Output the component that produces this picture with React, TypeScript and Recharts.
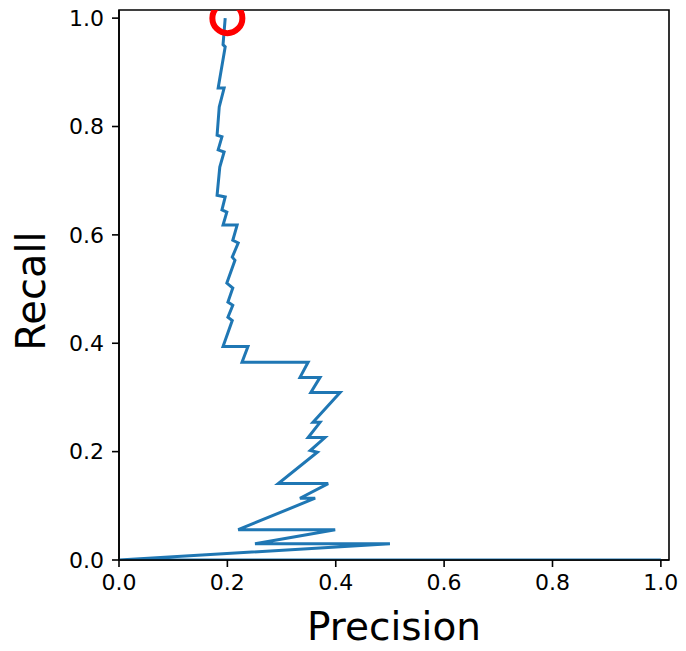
import {
  ComposedChart,
  Line,
  ReferenceArea,
  ReferenceDot,
  XAxis,
  YAxis,
} from "recharts";

const precision = [
  0.196, 0.192, 0.196, 0.183, 0.194, 0.185, 0.181, 0.19, 0.183, 0.194, 0.186,
  0.181, 0.196, 0.19, 0.199, 0.192, 0.218, 0.21, 0.22, 0.209, 0.214, 0.199,
  0.21, 0.201, 0.21, 0.201, 0.209, 0.192, 0.238, 0.227, 0.349, 0.334, 0.371,
  0.354, 0.408, 0.358, 0.371, 0.349, 0.38, 0.353, 0.366, 0.294, 0.386, 0.334,
  0.362, 0.22, 0.399, 0.251, 0.5, 0.0, 1.0,
];
const recall = [
  1.0, 0.951, 0.947, 0.871, 0.871, 0.836, 0.784, 0.781, 0.757, 0.753, 0.725,
  0.673, 0.67, 0.646, 0.642, 0.618, 0.618, 0.59, 0.585, 0.559, 0.553, 0.511,
  0.502, 0.476, 0.47, 0.448, 0.442, 0.394, 0.394, 0.365, 0.365, 0.337, 0.337,
  0.309, 0.309, 0.254, 0.254, 0.226, 0.226, 0.202, 0.199, 0.141, 0.141, 0.114,
  0.114, 0.056, 0.056, 0.03, 0.03, 0.0, 0.0,
];
const ticks = [0, 0.2, 0.4, 0.6, 0.8, 1.0];
const marked = { precision: 0.2, recall: 1.0 };
const AXIS_MAX = 1.015;

const data = precision.map((p, i) => ({ precision: p, recall: recall[i] }));

const FONT = "DejaVu Sans";
const tickStyle = { fontSize: 22, fill: "#000", fontFamily: FONT };
const lineStyle = { stroke: "#000", strokeWidth: 1.6 };

export default function App() {
  return (
    <div style={{ position: "absolute", left: 0, top: 0, background: "#fff" }}>
      <ComposedChart
        width={686}
        height={651}
        data={data}
        margin={{ top: 10, right: 17, bottom: 41, left: 49 }}
        style={{ fontFamily: FONT }}
      >
        <XAxis
          type="number"
          dataKey="precision"
          domain={[0, AXIS_MAX]}
          ticks={ticks}
          allowDataOverflow
          tickFormatter={(v: number) => v.toFixed(1)}
          tick={tickStyle}
          tickSize={7}
          tickMargin={7}
          axisLine={lineStyle}
          tickLine={lineStyle}
          height={50}
          label={{
            content: ({ viewBox }: any) => (
              <text
                x={viewBox.x + viewBox.width / 2}
                y={viewBox.y + 80}
                textAnchor="middle"
                fontSize={39}
                fontFamily={FONT}
                fill="#000"
              >
                Precision
              </text>
            ),
          }}
        />
        <YAxis
          type="number"
          dataKey="recall"
          domain={[0, AXIS_MAX]}
          ticks={ticks}
          allowDataOverflow
          tickFormatter={(v: number) => v.toFixed(1)}
          tick={tickStyle}
          tickSize={7}
          tickMargin={8}
          axisLine={lineStyle}
          tickLine={lineStyle}
          width={70}
          label={{
            content: ({ viewBox }: any) => {
              const cx = 45;
              const cy = viewBox.y + viewBox.height / 2 + 6;
              return (
                <text
                  x={cx}
                  y={cy}
                  transform={`rotate(-90 ${cx} ${cy})`}
                  textAnchor="middle"
                  fontSize={40}
                  fontFamily={FONT}
                  fill="#000"
                >
                  Recall
                </text>
              );
            },
          }}
        />
        <Line
          type="linear"
          dataKey="recall"
          stroke="#1f77b4"
          strokeWidth={3}
          dot={false}
          activeDot={false}
          isAnimationActive={false}
        />
        <ReferenceDot
          x={marked.precision}
          y={marked.recall}
          r={15}
          fill="none"
          stroke="#ff0000"
          strokeWidth={6}
          ifOverflow="hidden"
        />
        <ReferenceArea
          x1={0}
          x2={AXIS_MAX}
          y1={0}
          y2={AXIS_MAX}
          fill="none"
          fillOpacity={0}
          stroke="#000"
          strokeWidth={1.6}
          ifOverflow="visible"
        />
      </ComposedChart>
    </div>
  );
}
